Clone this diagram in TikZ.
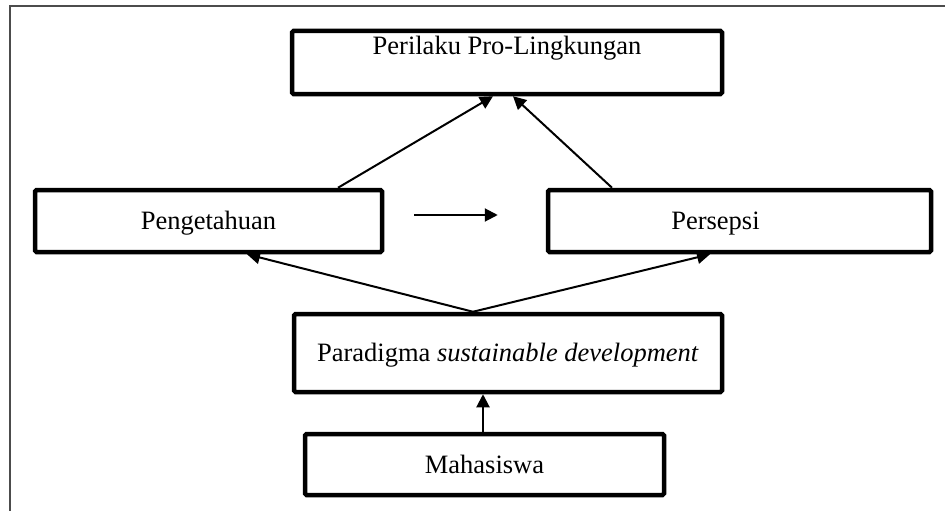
\documentclass[tikz,border=0pt]{standalone}
\usepackage{fontspec}
\setmainfont{Liberation Serif}
\usetikzlibrary{arrows.meta,positioning}

\begin{document}
\begin{tikzpicture}[x=1pt,y=-1pt,font=\fontsize{26.5}{30}\selectfont,
  blok/.style={draw,line width=4.5pt,rounded corners=1.5pt,inner sep=0pt,align=center,text height=17.5pt,text depth=0pt},
  panah/.style={-{Triangle[length=13pt,width=13pt]},line width=2pt,black}]
\useasboundingbox (0,0) rectangle (945,511);
% frame
\draw[line width=1.6pt,black!70] (10,511) -- (10,6) -- (945,6);
\node[blok,minimum width=430pt,minimum height=63pt,text depth=32.5pt] (plk) at (507,62.5) {Perilaku Pro-Lingkungan};
\node[blok,minimum width=347pt,minimum height=62pt] (peng) at (208.5,221) {Pengetahuan};
\node[blok,minimum width=383pt,minimum height=62pt] (pers) at (739.5,221) {\hspace*{-48pt}Persepsi};
\node[blok,minimum width=428pt,minimum height=78pt] (par) at (508,353) {Paradigma \textit{sustainable development}};
\node[blok,minimum width=359pt,minimum height=61pt] (mhs) at (484.5,464.5) {Mahasiswa};
\draw[panah] ([xshift=129.5pt]peng.north) -- ([xshift=-14pt]plk.south);
\draw[panah] ([xshift=-127.5pt]pers.north) -- ([xshift=6pt]plk.south);
\draw[panah] ([xshift=30pt,yshift=6pt]peng.east) -- ([xshift=-48pt,yshift=6pt]pers.west);
\draw[panah] ([xshift=-35pt]par.north) -- ([xshift=38.5pt]peng.south);
\draw[panah] ([xshift=-35pt]par.north) -- ([xshift=-29.5pt]pers.south);
\draw[panah] ([xshift=-1.5pt]mhs.north) -- ([xshift=-25pt]par.south);
\end{tikzpicture}
\end{document}
